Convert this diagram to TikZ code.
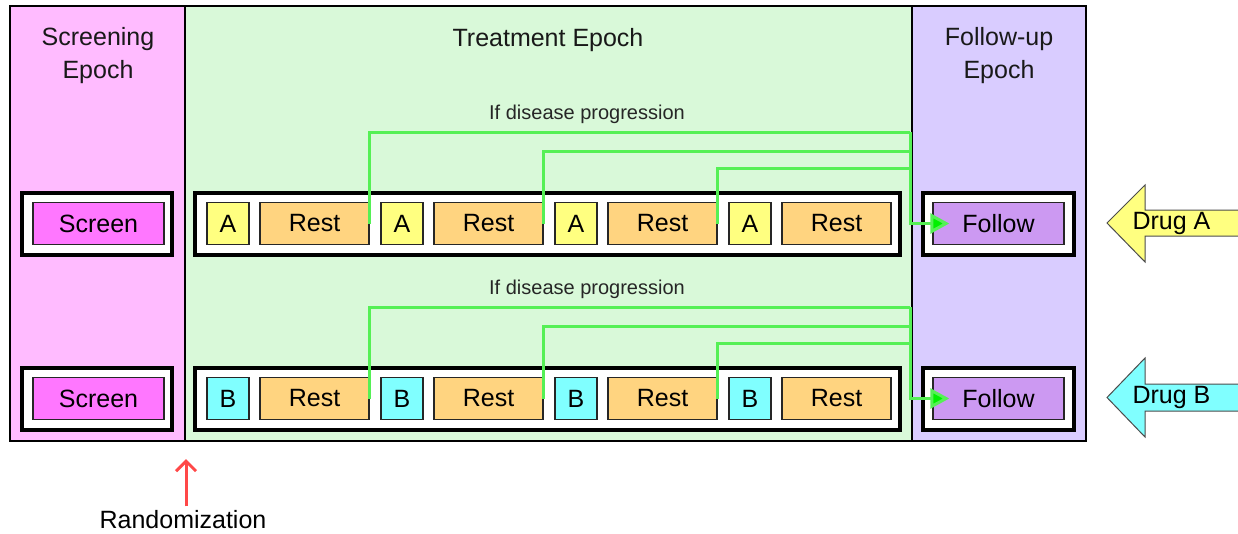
\documentclass[tikz,border=0pt]{standalone}
\usepackage{fontspec}
\setmainfont{Liberation Sans}
\usetikzlibrary{arrows.meta}

\definecolor{rosa}{HTML}{FFBBFF}
\definecolor{verdefondo}{HTML}{D9F9D9}
\definecolor{lila}{HTML}{D9CCFF}
\definecolor{magentacaja}{HTML}{FF77FF}
\definecolor{amarillo}{HTML}{FFFF80}
\definecolor{naranja}{HTML}{FFD480}
\definecolor{cian}{HTML}{80FFFF}
\definecolor{lilaosc}{HTML}{CC99F2}
\definecolor{verdeprog}{HTML}{55F055}
\definecolor{verdepunta}{HTML}{00F000}
\definecolor{rojo}{HTML}{FF4848}

\tikzset{
    titulo/.style={align=center, text=black!90, font=\fontsize{25}{33}\selectfont},
    etiqueta/.style={text=black!85, font=\fontsize{20}{24}\selectfont},
    marco/.style={draw, line width=4pt, fill=white, minimum height=62pt, inner sep=0pt},
    caja/.style={draw=black!85, line width=1.5pt, minimum height=42pt, inner sep=0pt,
        font=\fontsize{25}{25}\selectfont},
    prog/.style={draw=verdeprog, line width=3pt},
}

\begin{document}
\begin{tikzpicture}[x=1pt,y=-1pt]
    \useasboundingbox (0,0) rectangle (1238,533);

    % Fondos de las etapas
    \draw[fill=rosa, line width=1.5pt] (10,6) rectangle (185,441);
    \draw[fill=verdefondo, line width=1.5pt] (185,6) rectangle (912,441);
    \draw[fill=lila, line width=1.5pt] (912,6) rectangle (1086,441);

    % Titulos
    \node[titulo] (tScreen) at (98,56) {Screening\\Epoch};
    \node[titulo] (tTreat) at (548,40) {Treatment Epoch};
    \node[titulo] (tFollow) at (999,56) {Follow-up\\Epoch};

    % Filas de cada brazo
    \foreach \f/\y/\col in {A/223.5/amarillo, B/398.5/cian} {
        \node[marco, minimum width=150pt] (m1\f) at (97,\y) {};
        \node[marco, minimum width=705pt] (m2\f) at (547.5,\y) {};
        \node[marco, minimum width=151pt] (m3\f) at (998.5,\y) {};
        \node[caja, fill=magentacaja, minimum width=131pt] (s\f) at (98.5,\y) {Screen};
        \node[caja, fill=lilaosc, minimum width=131pt] (fo\f) at (998.5,\y) {Follow};
        \foreach \i/\dx in {1/0, 2/174, 3/348, 4/522} {
            \node[caja, fill=\col, minimum width=42pt] (d\f\i) at (228+\dx,\y) {\f};
            \node[caja, fill=naranja, minimum width=109pt] (r\f\i) at (314.5+\dx,\y) {Rest};
        }

        % Lineas de progresion
        \coordinate (p\f) at (910,\y-91.5);
        \node[etiqueta] (lbl\f) at (587,\y-109) {If disease progression};
        \draw[prog] (r\f1.east) |- (p\f);
        \draw[prog] (r\f2.east) |- ([yshift=-19pt]p\f);
        \draw[prog] (r\f3.east) |- ([yshift=-36pt]p\f);
        \draw[prog, -{Triangle[length=19pt, width=20pt, fill=verdepunta]}]
            (p\f) |- ([xshift=17pt]fo\f.west);
    }

    % Flechas de farmacos
    \draw[fill=amarillo, draw=black!70, line width=1pt]
        (1107,223) -- (1145,185) -- (1145,210) -- (1245,210) -- (1245,236)
        -- (1145,236) -- (1145,262) -- cycle;
    \node[font=\fontsize{25}{25}\selectfont] (drugA) at (1171.5,223) {Drug A};
    \draw[fill=cian, draw=black!70, line width=1pt]
        (1107,397.5) -- (1145,358) -- (1145,384) -- (1245,384) -- (1245,411)
        -- (1145,411) -- (1145,437) -- cycle;
    \node[font=\fontsize{25}{25}\selectfont] (drugB) at (1171.5,397.5) {Drug B};

    % Aleatorizacion
    \node[font=\fontsize{25}{25}\selectfont, anchor=base] (rand) at (183,528) {Randomization};
    \coordinate (randtip) at (186,459);
    \draw[rojo, line width=3pt, -{Straight Barb[length=10pt, width=20pt]}]
        (rand.north -| randtip) -- (randtip);

\end{tikzpicture}
\end{document}
